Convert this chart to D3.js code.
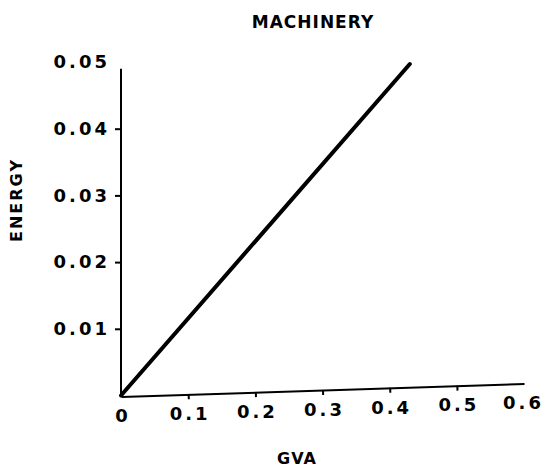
<!DOCTYPE html>
<html>
<head>
<meta charset="utf-8">
<script src="https://cdn.jsdelivr.net/npm/d3@7"></script>
<style>
  html, body { margin: 0; padding: 0; background: #fff; }
  svg { display: block; }
  text { font-family: "DejaVu Sans", sans-serif; font-weight: bold; fill: #000; }
</style>
</head>
<body>
<svg id="chart" width="545" height="470"></svg>
<script>
// ---- data ----
const title = "MACHINERY";
const xLabel = "GVA";
const yLabel = "ENERGY";
const xTickValues = [0, 0.1, 0.2, 0.3, 0.4, 0.5, 0.6];
const xTickLabels = ["0", "0.1", "0.2", "0.3", "0.4", "0.5", "0.6"];
const yTickValues = [0.01, 0.02, 0.03, 0.04, 0.05];
const yTickLabels = ["0.01", "0.02", "0.03", "0.04", "0.05"];
const lineGVA = [0, 0.43];
const lineEnergy = [0, 0.0497];
const yAxisTopValue = 0.049;

// ---- layout ----
const svg = d3.select("#chart");
const x0 = 121, x1 = 524, yBottom = 395.5, yTop = 62;
const tilt = -1.85; // degrees, scanned x-axis skew
const x = d3.scaleLinear().domain([0, 0.6]).range([x0, x1]);
const y = d3.scaleLinear().domain([0, 0.05]).range([yBottom, yTop]);
const xAxisScale = d3.scaleLinear().domain([0, 0.6]).range([0, Math.hypot(x1 - x0, 13)]);
const tickFont = "18px";
const tickSpacing = 3;

// title
svg.append("text").attr("x", 313).attr("y", 28).attr("text-anchor", "middle")
  .style("font-size", "17px").style("letter-spacing", "1px").text(title);

// y axis
const gy = svg.append("g").attr("transform", `translate(${x0},0)`);
gy.call(d3.axisLeft(y).tickValues(yTickValues).tickSize(6).tickSizeOuter(0)
  .tickFormat((d, i) => yTickLabels[i]));
gy.select(".domain").remove();
gy.selectAll(".tick line").attr("stroke", "#000").attr("stroke-width", 2)
  .filter(d => d === 0.05).remove();
gy.selectAll(".tick text").attr("x", -14).attr("dx", tickSpacing + "px")
  .style("font-size", tickFont).style("letter-spacing", tickSpacing + "px")
  .style("font-family", "DejaVu Sans").style("font-weight", "bold");
gy.append("line").attr("x1", 0).attr("x2", 0)
  .attr("y1", y(0) + 1.5).attr("y2", y(yAxisTopValue))
  .attr("stroke", "#000").attr("stroke-width", 2);

// x axis (tilted like the scan)
const gx = svg.append("g").attr("transform", `translate(${x0},${yBottom + 1}) rotate(${tilt})`);
gx.call(d3.axisBottom(xAxisScale).tickValues(xTickValues).tickSize(5).tickSizeOuter(0)
  .tickFormat((d, i) => xTickLabels[i]));
gx.select(".domain").attr("stroke", "#000").attr("stroke-width", 2);
gx.selectAll(".tick line").attr("stroke", "#000").attr("stroke-width", 2)
  .filter(d => d === 0 || d === 0.6).remove();
gx.selectAll(".tick text").attr("y", 13).attr("dx", (tickSpacing / 2) + "px")
  .attr("transform", `rotate(${-tilt})`)
  .style("font-size", tickFont).style("letter-spacing", tickSpacing + "px")
  .style("font-family", "DejaVu Sans").style("font-weight", "bold");
gx.selectAll(".tick text").filter(d => d === 0.6).attr("dx", "-1px");

// data line
const pts = lineGVA.map((v, i) => [v, lineEnergy[i]]);
svg.append("path").datum(pts)
  .attr("d", d3.line().x(d => x(d[0])).y(d => y(d[1])))
  .attr("fill", "none").attr("stroke", "#000").attr("stroke-width", 4)
  .attr("stroke-linecap", "round");

// axis labels
svg.append("text").attr("x", 297).attr("y", 464).attr("text-anchor", "middle")
  .style("font-size", "16px").style("letter-spacing", "1px").text(xLabel);
svg.append("text").attr("transform", "translate(22,200) rotate(-90)")
  .attr("text-anchor", "middle")
  .style("font-size", "16px").style("letter-spacing", "2px").text(yLabel);
</script>
</body>
</html>
